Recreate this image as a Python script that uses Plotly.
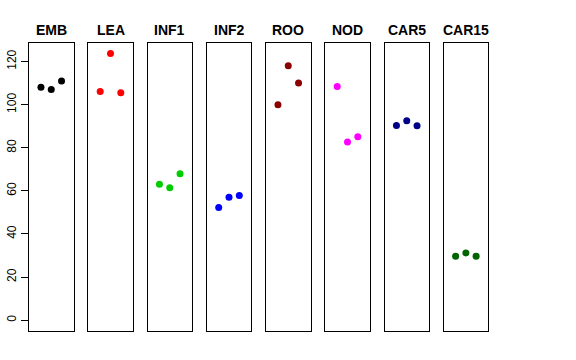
import plotly.graph_objects as go

categories = ["EMB", "LEA", "INF1", "INF2", "ROO", "NOD", "CAR5", "CAR15"]
colors = ["#000000", "#FF0000", "#00CD00", "#0000FF", "#8B0000", "#FF00FF", "#00008B", "#006400"]
x_pos = [1, 2, 3]
values = {
    "EMB": [108.1, 107.0, 111.0],
    "LEA": [106.1, 123.7, 105.5],
    "INF1": [63.1, 61.4, 68.0],
    "INF2": [52.3, 57.1, 57.8],
    "ROO": [99.9, 118.1, 110.1],
    "NOD": [108.4, 82.7, 85.1],
    "CAR5": [90.3, 92.5, 90.2],
    "CAR15": [29.7, 31.2, 29.7],
}
y_ticks = [0, 20, 40, 60, 80, 100, 120]

W, H = 576, 360
L, R, T, B = 29, 488, 43, 331
PW, PH = R - L, B - T
left0 = 29.0
pw = 44.5
step = 59.25

fig = go.Figure()
layout = dict(
    width=W, height=H,
    margin=dict(l=L, r=W - R, t=T, b=H - B, autoexpand=False),
    plot_bgcolor="white", paper_bgcolor="white",
    showlegend=False,
    font=dict(family="Liberation Sans, Arial, sans-serif", color="black"),
    annotations=[],
)
for i, cat in enumerate(categories):
    n = "" if i == 0 else str(i + 1)
    x0 = left0 + i * step
    x1 = x0 + pw
    fig.add_trace(go.Scatter(
        x=x_pos, y=values[cat], mode="markers",
        marker=dict(color=colors[i], size=7),
        xaxis="x" + n, yaxis="y" + n,
    ))
    layout["xaxis" + n] = dict(
        domain=[max(0, (x0 - L) / PW), min(1, (x1 - L) / PW)], range=[-0.16, 4.16],
        showticklabels=False, ticks="", showgrid=False, zeroline=False,
        showline=True, mirror=True, linecolor="black", linewidth=1,
        anchor="y" + n, fixedrange=True, automargin=False,
    )
    ax = dict(
        domain=[0, 1], range=[-5.0, 128.6],
        showgrid=False, zeroline=False,
        showline=True, mirror=True, linecolor="black", linewidth=1,
        anchor="x" + n, automargin=False,
    )
    if i == 0:
        ax.update(tickvals=y_ticks, ticks="outside", ticklen=7, tickwidth=1,
                  tickcolor="black", tickangle=-90,
                  tickfont=dict(size=12, color="black"))
    else:
        ax.update(showticklabels=False, ticks="")
    layout["yaxis" + n] = ax
    layout["annotations"].append(dict(
        text="<b>" + cat + "</b>", x=((x0 + x1) / 2 - L) / PW, y=(B - 29.5) / PH,
        xref="paper", yref="paper", showarrow=False,
        font=dict(size=14, color="black"), xanchor="center", yanchor="middle",
    ))

fig.update_layout(**layout)
fig.write_html("out.html", config={"displayModeBar": False},
               post_script="document.body.style.margin='0';")
